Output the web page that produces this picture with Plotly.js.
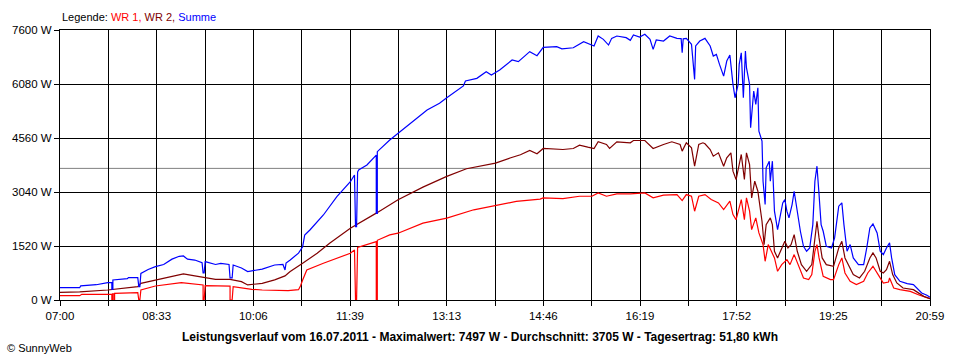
<!DOCTYPE html>
<html>
<head>
<meta charset="utf-8">
<script src="https://cdn.plot.ly/plotly-3.0.1.min.js"></script>
<style>
html,body{margin:0;padding:0;background:#fff;}
#chart{width:960px;height:360px;}
</style>
</head>
<body>
<div id="chart"></div>
<script>
// ---- data ----
var xTickLabels = ["07:00","08:33","10:06","11:39","13:13","14:46","16:19","17:52","19:25","20:59"];
var yTickValues = [0,1520,3040,4560,6080,7600];
var averageW = 3705;

var sumTime = [
"07:00","07:19","07:20","07:35","07:46","07:50","07:50","07:51",
"07:51","08:05","08:06","08:15","08:16","08:17","08:18","08:25",
"08:32","08:40","08:48","08:55","08:59","09:03","09:10","09:17",
"09:18","09:19","09:20","09:30","09:35","09:43","09:44","09:46",
"09:47","09:55","10:01","10:05","10:15","10:27","10:35","10:37",
"10:38","10:42","10:50","10:54","10:56","11:01","11:04","11:14",
"11:27","11:40","11:44","11:45","11:46","11:47","11:48","11:56",
"12:05","12:05","12:06","12:06","12:18","12:26","12:38","12:42",
"12:54","13:06","13:13","13:29","13:31","13:42","13:51","13:56",
"14:04","14:16","14:22","14:33","14:40","14:46","14:59","15:04",
"15:15","15:25","15:29","15:35","15:39","15:44","15:49","15:52",
"15:57","16:06","16:10","16:13","16:19","16:24","16:29","16:32",
"16:35","16:42","16:48","16:55","16:59","17:00","17:01","17:04",
"17:09","17:12","17:13","17:17","17:22","17:27","17:30","17:33",
"17:36","17:40","17:43","17:46","17:49","17:51","17:54","17:55",
"17:57","17:59","18:01","18:02","18:05","18:06","18:09","18:11",
"18:13","18:14","18:17","18:18","18:20","18:21","18:24","18:25",
"18:27","18:29","18:32","18:34","18:37","18:39","18:41","18:43",
"18:46","18:48","18:51","18:54","18:57","19:00","19:03","19:06",
"19:08","19:10","19:12","19:14","19:16","19:19","19:24","19:27",
"19:31","19:34","19:36","19:39","19:42","19:45","19:50","19:55",
"19:58","20:01","20:04","20:08","20:11","20:14","20:17","20:20",
"20:22","20:25","20:30","20:37","20:43","20:46","20:51","20:56",
"20:59"];
var sumW = [
346,346,400,430,490,490,300,300,
563,600,630,630,375,375,750,860,
940,1000,1150,1230,1240,1150,1125,1050,
760,760,1080,1000,1030,1000,620,620,
985,900,800,820,870,985,1000,845,
1040,1126,1320,1500,1830,1970,2063,2393,
2908,3330,3519,2063,2063,3600,3660,3800,
4080,2440,2440,4175,4504,4690,4974,5087,
5350,5537,5695,6025,6165,6240,6427,6334,
6475,6756,6709,6990,6877,7110,7130,7070,
7100,7272,7224,7150,7431,7337,7177,7365,
7431,7384,7308,7459,7403,7478,7337,7055,
7318,7290,7431,7365,7360,6960,7350,7365,
7196,6209,7150,7290,7365,7150,6867,6914,
6632,6303,6726,6895,6068,5693,6068,6632,
6960,5693,7008,6538,6068,4847,5881,5505,
5975,4753,4472,3344,2687,3720,3908,3344,
3908,2499,1982,2311,2734,2828,2499,2311,
2687,3062,2499,1935,1512,1372,1465,2123,
3344,3767,2968,2123,1935,1512,1465,1747,
2640,2734,2123,1372,1559,1184,996,996,
1465,2029,2142,1888,1372,1278,1465,1606,
1184,714,526,460,432,338,197,132,
75];

var wr2Time = [
"07:00","07:19","07:46","08:15","08:18","08:32","08:48","08:59",
"09:10","09:18","09:30","09:44","09:55","10:01","10:15","10:27",
"10:37","10:40","10:42","10:54","11:08","11:20","11:40","12:05",
"12:26","12:50","13:13","13:32","13:48","14:00","14:14","14:24",
"14:33","14:40","14:46","15:05","15:15","15:21","15:29","15:35",
"15:39","15:47","15:50","15:57","16:10","16:13","16:24","16:32",
"16:42","16:50","16:58","17:00","17:04","17:09","17:12","17:16",
"17:20","17:22","17:27","17:30","17:35","17:40","17:43","17:47",
"17:49","17:52","17:55","17:57","18:00","18:02","18:05","18:07",
"18:10","18:13","18:17","18:19","18:21","18:25","18:27","18:29",
"18:32","18:35","18:39","18:42","18:45","18:48","18:51","18:55",
"19:00","19:05","19:07","19:10","19:12","19:15","19:19","19:26",
"19:31","19:34","19:37","19:40","19:45","19:51","19:56","20:01",
"20:04","20:07","20:11","20:14","20:17","20:20","20:23","20:27",
"20:33","20:43","20:48","20:53","20:59"];
var wr2W = [
216,230,282,376,470,565,660,734,
678,640,583,583,518,423,470,565,
678,753,799,1034,1316,1598,2021,2445,
2820,3178,3479,3695,3780,3855,3996,4090,
4208,4115,4265,4237,4265,4359,4302,4265,
4453,4378,4265,4453,4425,4490,4490,4265,
4378,4453,4378,4190,4425,4284,3767,4378,
4425,4396,4237,4049,4143,3767,4002,4143,
3626,3391,3814,4096,3391,4143,3814,2875,
3344,3062,2217,1559,2123,2311,2123,1372,
1184,1372,1653,1465,1559,1841,1372,996,
808,996,1559,2217,1747,1184,996,949,
1465,1653,1184,996,714,620,808,1184,
1325,1184,808,761,855,1090,714,479,
338,291,197,103,38];

var wr1Time = [
"07:00","07:19","07:21","07:50","07:50","07:50:40","07:50:40","07:52",
"07:52","07:52:40","07:52:40","08:15","08:16","08:17","08:18","08:32",
"08:57","09:10","09:18","09:18","09:19","09:20","09:30","09:44",
"09:44","09:46","09:47","10:05","10:15","10:40","10:50","10:52",
"10:54","10:58","11:14","11:40","11:44","11:45","11:46","11:47",
"12:05","12:05","12:06","12:06","12:18","12:26","12:50","13:13",
"13:39","14:00","14:20","14:43","14:46","15:05","15:21","15:33",
"15:39","15:47","15:57","16:10","16:24","16:32","16:42","16:55",
"17:00","17:04","17:09","17:12","17:16","17:22","17:28","17:35",
"17:40","17:46","17:49","17:52","17:55","17:57","18:00","18:02",
"18:05","18:07","18:11","18:14","18:18","18:20","18:23","18:26",
"18:29","18:32","18:36","18:41","18:44","18:48","18:52","18:57",
"19:02","19:05","19:08","19:10","19:12","19:16","19:23","19:26",
"19:31","19:34","19:37","19:42","19:48","19:55","19:59","20:04",
"20:09","20:14","20:19","20:20","20:24","20:30","20:40","20:49",
"20:59"];
var wr1W = [
122,122,160,165,0,0,170,170,
0,0,188,207,0,0,282,395,
489,450,423,0,0,405,400,390,
0,0,376,301,282,265,290,400,
564,846,1034,1316,1410,0,0,1480,
1645,0,0,1680,1833,1880,2163,2303,
2539,2651,2774,2839,2875,2856,2921,2921,
3015,2921,2987,2987,3015,2875,2950,2968,
2799,2968,2921,2499,2921,2968,2828,2734,
2546,2781,2405,2264,2640,2828,2264,2875,
2499,1982,2311,1888,1559,1090,1559,1372,
1184,808,996,1137,996,1278,996,620,
573,714,1372,1559,1184,667,573,573,
996,1184,761,526,432,526,761,949,
714,479,507,620,338,291,244,132,
38];

// ---- helpers ----
function toMin(s){
  var p = s.split(":").map(Number);
  return p[0]*60 + p[1] + (p[2]||0)/60;
}
var xStart = toMin(xTickLabels[0]);
var xEnd = toMin(xTickLabels[xTickLabels.length-1]);
var nGrid = (xTickLabels.length-1)*2;
var tickVals = [], tickText = [];
for (var i=0;i<=nGrid;i++){
  tickVals.push(xStart + i*(xEnd-xStart)/nGrid);
  tickText.push(i%2===0 ? xTickLabels[i/2] : "");
}

var FONT = "Liberation Sans, Arial, sans-serif";

var traces = [
  {x: wr1Time.map(toMin), y: wr1W, type:"scatter", mode:"lines", name:"WR 1",
   line:{color:"#ff0000", width:1.2}},
  {x: wr2Time.map(toMin), y: wr2W, type:"scatter", mode:"lines", name:"WR 2",
   line:{color:"#800000", width:1.2}},
  {x: sumTime.map(toMin), y: sumW, type:"scatter", mode:"lines", name:"Summe",
   line:{color:"#0000ff", width:1.2}}
];

var layout = {
  width:960, height:360,
  margin:{l:60, r:30, t:30, b:60},
  paper_bgcolor:"#ffffff", plot_bgcolor:"#ffffff",
  showlegend:false,
  font:{family:FONT, size:11, color:"#000"},
  xaxis:{
    type:"linear", range:[xStart, xEnd], tickmode:"array",
    tickvals:tickVals, ticktext:tickText,
    showgrid:true, gridcolor:"#000", gridwidth:1,
    ticks:"outside", ticklen:5, tickcolor:"#000", tickwidth:1,
    showline:true, linecolor:"#000", linewidth:1, mirror:true,
    zeroline:false, fixedrange:true,
    tickfont:{family:FONT, size:11.5, color:"#000"}
  },
  yaxis:{
    range:[0,7600], tickmode:"array", tickvals:yTickValues,
    ticktext:yTickValues.map(function(v){return v+" W";}),
    showgrid:true, gridcolor:"#000", gridwidth:1,
    ticks:"outside", ticklen:5, tickcolor:"#000", tickwidth:1,
    showline:true, linecolor:"#000", linewidth:1, mirror:true,
    zeroline:false, fixedrange:true,
    tickfont:{family:FONT, size:11.5, color:"#000"}
  },
  shapes:[
    {type:"line", xref:"paper", x0:0, x1:1, yref:"y", y0:averageW, y1:averageW,
     line:{color:"#808080", width:1}, layer:"below"}
  ],
  annotations:[
    {xref:"paper", yref:"paper", x:0, y:1+13/270, xanchor:"left", yanchor:"middle",
     showarrow:false, font:{family:FONT, size:11, color:"#000"},
     text:'Legende: <span style="color:#ff0000">WR 1,</span> <span style="color:#800000">WR 2,</span> <span style="color:#0000ff">Summe</span>'},
    {xref:"paper", yref:"paper", x:(480-60)/870, y:-37/270, xanchor:"center", yanchor:"middle",
     showarrow:false, font:{family:FONT, size:12, color:"#000"},
     text:"<b>Leistungsverlauf vom 16.07.2011 - Maximalwert: 7497 W - Durchschnitt: 3705 W - Tagesertrag: 51,80 kWh</b>"},
    {xref:"paper", yref:"paper", x:(5-60)/870, y:-48/270, xanchor:"left", yanchor:"middle",
     showarrow:false, font:{family:FONT, size:11, color:"#000"},
     text:"© SunnyWeb"}
  ]
};

Plotly.newPlot("chart", traces, layout, {displayModeBar:false, staticPlot:true});
</script>
</body>
</html>
